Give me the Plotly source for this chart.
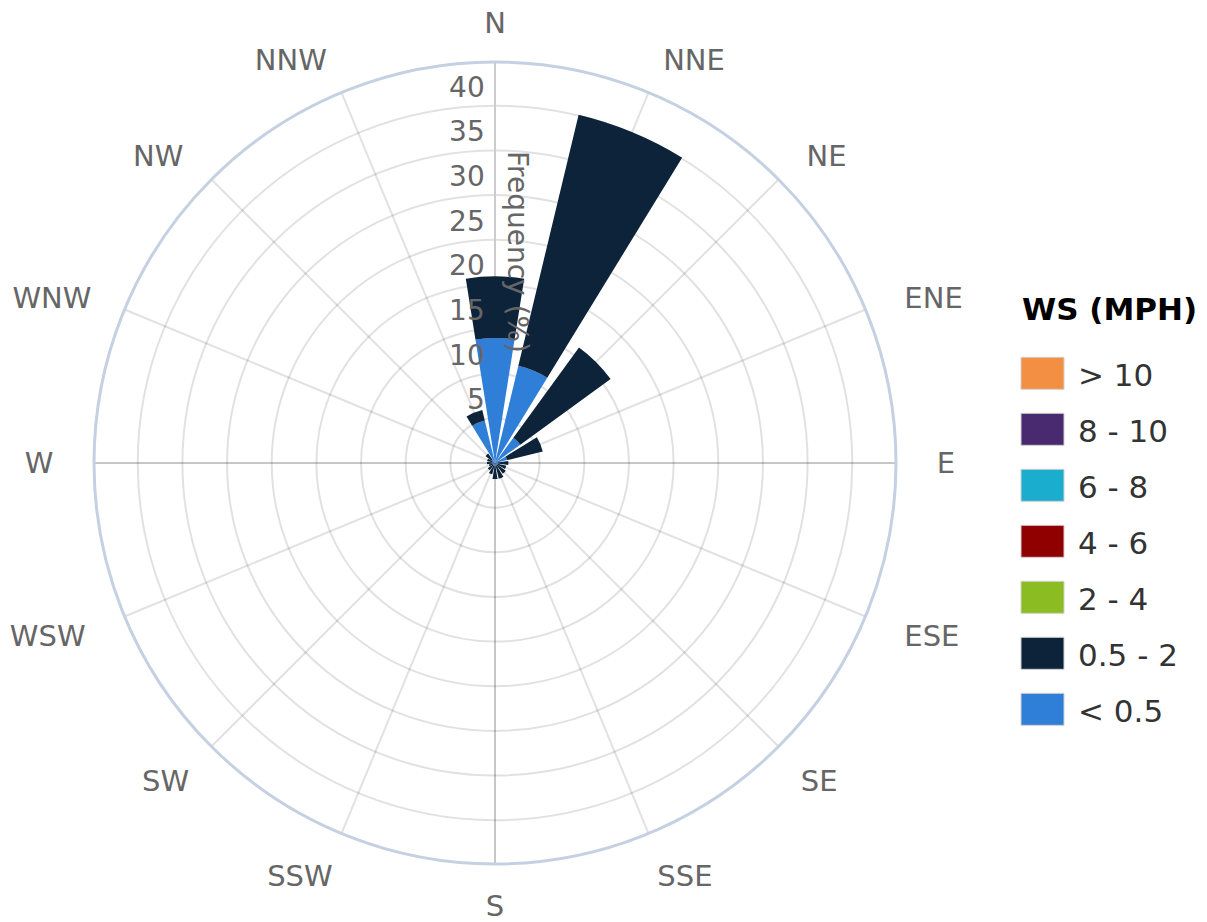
import plotly.graph_objects as go

directions = ["N", "NNE", "NE", "ENE", "E", "ESE", "SE", "SSE",
              "S", "SSW", "SW", "WSW", "W", "WNW", "NW", "NNW"]

speed_bins = ["< 0.5", "0.5 - 2", "2 - 4", "4 - 6", "6 - 8", "8 - 10", "> 10"]
bin_colors = ["#2f7ed8", "#0d233a", "#8bbc21", "#910000", "#1aadce", "#492970", "#f28f43"]

freq_lt_05 = [14.0, 11.2, 3.5, 1.4, 0.3, 0.3, 0.3, 0.3, 0.3, 0.3, 0.3, 0.2, 0.3, 0.3, 0.5, 4.9]
freq_05_2 = [6.9, 28.9, 12.5, 4.1, 1.2, 1.0, 1.2, 1.5, 1.5, 1.0, 0.7, 0.5, 0.6, 0.6, 0.8, 1.2]
freq_2_4 = [0.0] * 16
freq_4_6 = [0.0] * 16
freq_6_8 = [0.0] * 16
freq_8_10 = [0.0] * 16
freq_gt_10 = [0.0] * 16

series = [freq_lt_05, freq_05_2, freq_2_4, freq_4_6, freq_6_8, freq_8_10, freq_gt_10]

radial_ticks = [5, 10, 15, 20, 25, 30, 35, 40]

# style: extra thin-space padding pushing side labels away from the circle
label_pad = {"N": 0, "NNE": 1, "NE": 2, "ENE": 3, "E": 3, "ESE": 3, "SE": 1, "SSE": 0,
             "S": 0, "SSW": 0, "SW": 1, "WSW": 3, "W": 3, "WNW": 2, "NW": 2, "NNW": 1}

FONT = "DejaVu Sans"
TICK_COLOR = "#666666"
GRID = "rgba(0,0,0,0.118)"
R_MAX = 44.9

# figure geometry (page body margin removed by post_script)
W, H = 1207, 922
L, R, T, B = 60, 60, 62, 58
PW, PH = W - L - R, H - T - B
CX = 495  # polar centre, px


def px_x(px):
    return (px - L) / PW


def px_y(py):
    return 1 - (py - T) / PH


def padded(d, i):
    sp = "\u2009" * label_pad[d]
    # right half -> pad before, left half -> pad after
    return sp + d if 0 < i < 8 else (d + sp if i > 8 else d)


fig = go.Figure()
for name, color, vals in zip(speed_bins, bin_colors, series):
    fig.add_trace(go.Barpolar(
        r=vals, theta=directions, name=name,
        marker=dict(color=color, line=dict(width=0)),
        showlegend=False, subplot="polar",
    ))
# overlay subplot carrying only the radial tick labels (drawn above the bars)
fig.add_trace(go.Barpolar(r=[], theta=[], showlegend=False, subplot="polar2",
                          hoverinfo="skip"))

shapes = []
annotations = []

# darker N-S and E-W cross lines under the grid
dom_x0, dom_x1 = 0, (CX - L) * 2 / PW
cxp = (dom_x0 + dom_x1) / 2
rad_x = (PH / 2) / PW
shapes.append(dict(type="line", xref="paper", yref="paper", layer="below",
                   x0=cxp - rad_x, x1=cxp + rad_x, y0=0.5, y1=0.5,
                   line=dict(color="#e2e2e2", width=2)))
shapes.append(dict(type="line", xref="paper", yref="paper", layer="below",
                   x0=cxp, x1=cxp, y0=0, y1=1,
                   line=dict(color="#e2e2e2", width=2)))

# legend drawn Highcharts-style (large swatches), highest bin on top
annotations.append(dict(
    text="<b>WS (MPH)</b>", xref="paper", yref="paper",
    x=px_x(1020), y=px_y(309), xanchor="left", yanchor="middle",
    showarrow=False, font=dict(size=31, color="black", family=FONT),
))
for i, (name, color) in enumerate(zip(speed_bins[::-1], bin_colors[::-1])):
    cy = 373.3 + 56 * i
    shapes.append(dict(
        type="rect", xref="paper", yref="paper",
        x0=px_x(1021), x1=px_x(1064), y0=px_y(cy - 16), y1=px_y(cy + 16),
        fillcolor=color, line=dict(color="#d0d0d0", width=1),
    ))
    annotations.append(dict(
        text=name, xref="paper", yref="paper",
        x=px_x(1076), y=px_y(cy + 2), xanchor="left", yanchor="middle",
        showarrow=False, font=dict(size=31, color="#333333", family=FONT),
    ))

# radial axis title (rotated, reading top to bottom)
annotations.append(dict(
    text="Frequency (%)", xref="paper", yref="paper",
    x=px_x(518), y=px_y(252), xanchor="center", yanchor="middle",
    textangle=90, showarrow=False,
    font=dict(size=28, color=TICK_COLOR, family=FONT),
))

domain = dict(x=[dom_x0, dom_x1], y=[0, 1])

fig.update_layout(
    width=W, height=H,
    margin=dict(l=L, r=R, t=T, b=B),
    paper_bgcolor="white",
    font=dict(family=FONT, color=TICK_COLOR, size=28),
    polar=dict(
        domain=domain,
        bgcolor="rgba(0,0,0,0)",
        bargap=0.2,
        angularaxis=dict(
            direction="clockwise", rotation=90,
            categoryorder="array", categoryarray=directions,
            tickmode="array", tickvals=directions,
            ticktext=[padded(d, i) for i, d in enumerate(directions)],
            tickfont=dict(size=29, color=TICK_COLOR, family=FONT),
            gridcolor=GRID, gridwidth=2,
            showline=True, linecolor="#c5d1e2", linewidth=3,
            ticks="outside", ticklen=16, tickcolor="rgba(0,0,0,0)",
            layer="below traces",
        ),
        radialaxis=dict(
            angle=90, range=[0, R_MAX],
            tickvals=radial_ticks, showticklabels=False,
            gridcolor=GRID, gridwidth=2,
            showline=True, linecolor="#cccccc", linewidth=2,
            ticks="",
            layer="below traces",
        ),
    ),
    polar2=dict(
        domain=domain,
        bgcolor="rgba(0,0,0,0)",
        angularaxis=dict(
            direction="clockwise", rotation=90,
            categoryorder="array", categoryarray=directions,
            showticklabels=False, showgrid=False, showline=False, ticks="",
        ),
        radialaxis=dict(
            angle=90, side="counterclockwise", tickangle=90,
            range=[0, R_MAX],
            tickvals=radial_ticks,
            ticktext=[str(v) + "\u2009<br>\u00a0" for v in radial_ticks],
            tickfont=dict(size=28, color=TICK_COLOR, family=FONT),
            showgrid=False, showline=False, ticks="",
            layer="above traces",
        ),
    ),
    shapes=shapes,
    annotations=annotations,
    showlegend=False,
)

fig.write_html(
    "out.html",
    config={"displayModeBar": False},
    post_script="document.body.style.margin='0';document.body.style.overflow='hidden';",
)
